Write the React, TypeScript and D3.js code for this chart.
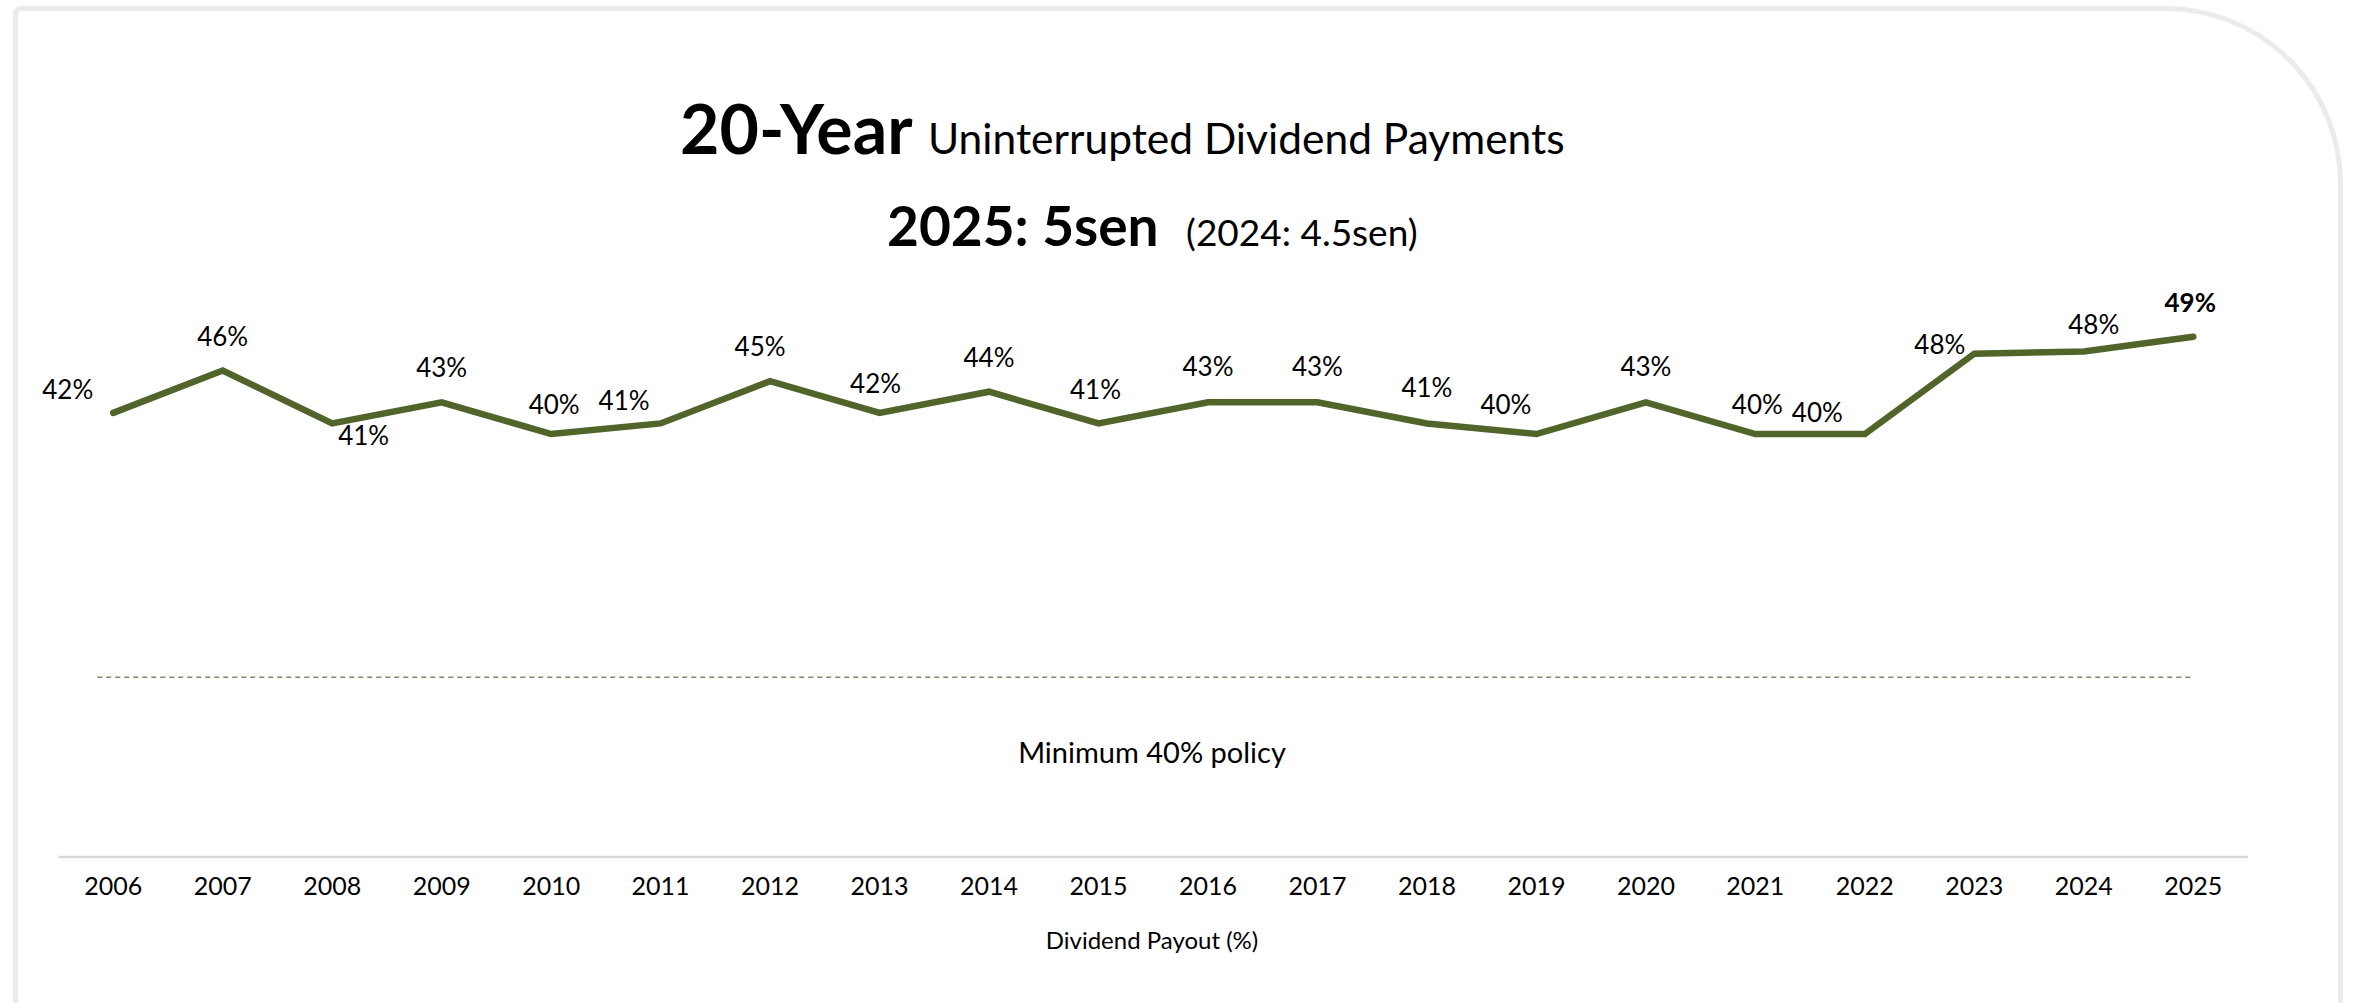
import { useRef, useEffect } from "react";
import * as d3 from "d3";

const years = ["2006", "2007", "2008", "2009", "2010", "2011", "2012", "2013", "2014", "2015",
  "2016", "2017", "2018", "2019", "2020", "2021", "2022", "2023", "2024", "2025"];
const payout = [42, 46, 41, 43, 40, 41, 45, 42, 44, 41, 43, 43, 41, 40, 43, 40, 40, 47.6, 47.8, 49.2];
const policyLevel = 17;
const titleBold = "20-Year";
const titleRest = "Uninterrupted Dividend Payments";
const subBold = "2025: 5sen";
const subRest = "(2024: 4.5sen)";
const policyText = "Minimum 40% policy";
const axisTitle = "Dividend Payout (%)";

// label placement next to each point: [dx, dy, anchor]
const nudge: [number, number, string][] = [
  [-20, -14, "end"], [0, -25, "middle"], [6, 22, "start"], [0, -25, "middle"], [3, -20, "middle"],
  [-11, -13, "end"], [-10, -25, "middle"], [-4, -20, "middle"], [0, -25, "middle"], [-3, -24, "middle"],
  [0, -26, "middle"], [0, -26, "middle"], [0, -26, "middle"], [-5, -20, "end"], [0, -26, "middle"],
  [2, -20, "middle"], [-22, -12, "end"], [-9, 0, "end"], [10, -18, "middle"], [-3, -25, "middle"],
];

const FONT = "Lato, 'Noto Sans', sans-serif";
const W = 2354;
const H = 1003;

export default function App() {
  const ref = useRef<SVGSVGElement>(null);

  useEffect(() => {
    if (!ref.current) return;
    const svg = d3.select(ref.current);
    svg.selectAll("*").remove();

    // card outline, rounded top-right corner, runs off the bottom
    const p = d3.path();
    const l = 15.5, t = 8.5, r = 2340.5, R = 175, r0 = 5;
    p.moveTo(l, H + 20);
    p.lineTo(l, t + r0);
    p.arcTo(l, t, l + r0, t, r0);
    p.lineTo(r - R, t);
    p.arcTo(r, t, r, t + R, R);
    p.lineTo(r, H + 20);
    svg.append("path").attr("d", p.toString()).attr("fill", "#fff")
      .attr("stroke", "#ebebeb").attr("stroke-width", 5);

    const x = d3.scaleBand().domain(years).range([58.5, 2248]).padding(0);
    const cx = (yr: string) => x(yr)! + x.bandwidth() / 2;
    const y = d3.scaleLinear().domain([0, 40]).range([857, 434]);

    // titles
    const t1 = svg.append("text").attr("font-family", FONT).attr("fill", "#000").attr("y", 154);
    t1.append("tspan").attr("x", 680).attr("font-weight", 700).attr("font-size", 68).text(titleBold);
    t1.append("tspan").attr("x", 928).attr("font-size", 42.5).text(titleRest);

    const t2 = svg.append("text").attr("font-family", FONT).attr("fill", "#000").attr("y", 246);
    t2.append("tspan").attr("x", 887).attr("font-weight", 700).attr("font-size", 55).text(subBold);
    t2.append("tspan").attr("x", 1186).attr("font-size", 37).text(subRest);

    // x axis
    svg.append("line").attr("x1", x.range()[0]).attr("x2", x.range()[1])
      .attr("y1", y(0)).attr("y2", y(0)).attr("stroke", "#d9d9d9").attr("stroke-width", 2.5);
    svg.append("g").selectAll("text").data(years).join("text")
      .attr("x", d => cx(d)).attr("y", 895).attr("text-anchor", "middle")
      .attr("font-family", FONT).attr("font-size", 25).attr("fill", "#000").text(d => d);
    svg.append("text").attr("x", 1152).attr("y", 949).attr("text-anchor", "middle")
      .attr("font-family", FONT).attr("font-size", 24).attr("fill", "#000").text(axisTitle);

    // policy line
    svg.append("line").attr("x1", cx(years[0]) - 16).attr("x2", cx(years[years.length - 1]))
      .attr("y1", y(policyLevel)).attr("y2", y(policyLevel))
      .attr("stroke", "#7f8a63").attr("stroke-width", 1.6).attr("stroke-dasharray", "5,4");
    svg.append("text").attr("x", 1152).attr("y", 763).attr("text-anchor", "middle")
      .attr("font-family", FONT).attr("font-size", 29).attr("fill", "#000").text(policyText);

    // payout line
    const line = d3.line<number>().x((_, i) => cx(years[i])).y(d => y(d));
    svg.append("path").datum(payout).attr("d", line).attr("fill", "none")
      .attr("stroke", "#51652b").attr("stroke-width", 6.5)
      .attr("stroke-linecap", "round").attr("stroke-linejoin", "miter");

    svg.append("g").selectAll("text").data(payout).join("text")
      .attr("x", (_, i) => cx(years[i]) + nudge[i][0])
      .attr("y", (d, i) => y(d) + nudge[i][1])
      .attr("text-anchor", (_, i) => nudge[i][2])
      .attr("font-family", FONT).attr("font-size", 26).attr("fill", "#000")
      .attr("font-weight", (_, i) => (i === payout.length - 1 ? 700 : 400))
      .text(d => `${Math.round(d)}%`);
  }, []);

  return (
    <svg ref={ref} width={W} height={H}
      style={{ position: "absolute", left: 0, top: 0, display: "block", background: "#fff" }} />
  );
}
